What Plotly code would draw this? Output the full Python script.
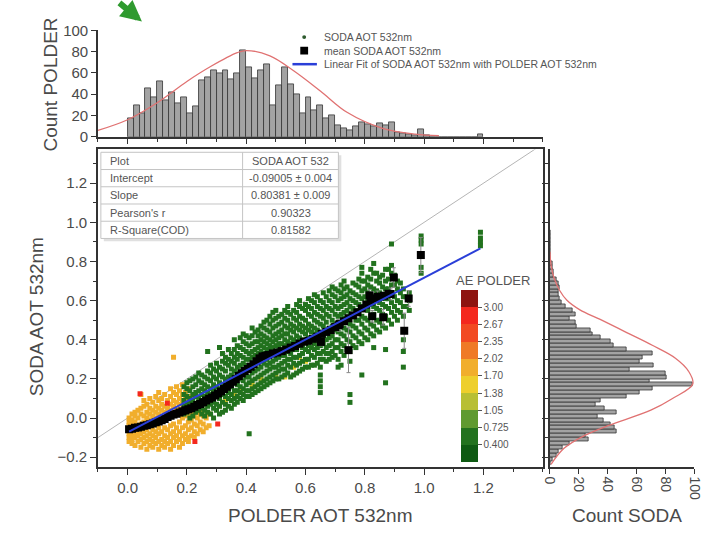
import plotly.graph_objects as go

W, H = 712, 534


def PX(px):
    return px / W


def PY(py):
    return 1 - py / H


# ---------------- data ----------------
# top histogram (POLDER AOT 532nm), bin width 0.02
top_bin_centers = [0.01, 0.03, 0.05, 0.07, 0.09, 0.11, 0.13, 0.15, 0.17, 0.19,
                   0.21, 0.23, 0.25, 0.27, 0.29, 0.31, 0.33, 0.35, 0.37, 0.39,
                   0.41, 0.43, 0.45, 0.47, 0.49, 0.51, 0.53, 0.55, 0.57, 0.59,
                   0.61, 0.63, 0.65, 0.67, 0.69, 0.71, 0.73, 0.75, 0.77, 0.79,
                   0.81, 0.83, 0.85, 0.87, 0.89, 0.91, 0.93, 0.95, 0.97, 0.99,
                   1.01, 1.03, 1.05, 1.07, 1.09, 1.11, 1.13, 1.15, 1.17, 1.19]
top_counts = [17, 30, 22, 46, 37, 52, 34, 42, 31, 37,
              22, 29, 53, 56, 62, 60, 62, 54, 60, 81,
              65, 55, 62, 68, 30, 48, 65, 49, 40, 22,
              37, 25, 30, 17, 20, 11, 8, 6, 10, 14,
              12, 10, 13, 11, 14, 4, 3, 2, 1, 7,
              1, 0, 0, 0, 0, 0, 0, 0, 0, 2]
top_fit_x = [-0.1, 0.0, 0.1, 0.2, 0.28, 0.37, 0.4, 0.48, 0.56, 0.65, 0.74, 0.86, 0.97, 1.05]
top_fit_y = [6, 16, 32, 52, 66, 79, 81, 76, 62, 43, 23, 8, 2.5, 1]

# right histogram (SODA AOT 532nm), bin width 0.02
right_bin_centers = [-0.23, -0.21, -0.19, -0.17, -0.15, -0.13, -0.11, -0.09, -0.07, -0.05,
                     -0.03, -0.01, 0.01, 0.03, 0.05, 0.07, 0.09, 0.11, 0.13, 0.15,
                     0.17, 0.19, 0.21, 0.23, 0.25, 0.27, 0.29, 0.31, 0.33, 0.35,
                     0.37, 0.39, 0.41, 0.43, 0.45, 0.47, 0.49, 0.51, 0.53, 0.55,
                     0.57, 0.59, 0.61, 0.63, 0.65, 0.67, 0.69, 0.71, 0.73, 0.75,
                     0.77, 0.79, 0.81, 0.83, 0.85, 0.87, 0.89, 0.91, 0.93, 0.95]
right_counts = [1, 2, 5, 6, 9, 14, 27, 25, 46, 45,
                42, 37, 33, 46, 38, 32, 35, 53, 62, 71,
                99, 69, 81, 80, 55, 72, 62, 64, 71, 53,
                44, 42, 35, 30, 28, 19, 18, 14, 18, 16,
                11, 8, 7, 6, 6, 7, 6, 5, 3, 3,
                2, 2, 1, 1, 1, 1, 1, 1, 1, 1]
right_fit_y = [-0.237, -0.155, -0.09, -0.04, 0.04, 0.10, 0.174, 0.24, 0.306, 0.372,
               0.438, 0.504, 0.553, 0.602, 0.652, 0.718, 0.784, 0.85]
right_fit_x = [1, 10, 24, 40, 70, 85, 99, 96, 87, 71,
               53, 35, 21, 12, 7, 3, 1, 0.3]

# scatter: SODA vs POLDER, grouped by AE POLDER colour class
green_cols = {
    0.19: [0.02, 0.06, 0.09, 0.12, 0.16],
    0.20: [0.03, 0.07, 0.11, 0.15, 0.18],
    0.21: [0.0, 0.04, 0.08, 0.1, 0.14, 0.19],
    0.22: [0.01, 0.05, 0.09, 0.12, 0.16, 0.2],
    0.23: [0.03, 0.07, 0.11, 0.13, 0.17, 0.21],
    0.24: [0.04, 0.08, 0.1, 0.14, 0.19, 0.23],
    0.25: [0.02, 0.05, 0.09, 0.12, 0.15, 0.18, 0.22],
    0.26: [0.01, 0.04, 0.07, 0.11, 0.14, 0.17, 0.21],
    0.27: [0.03, 0.06, 0.1, 0.13, 0.16, 0.2, 0.24, 0.34],
    0.28: [0.02, 0.07, 0.09, 0.12, 0.15, 0.19, 0.23, 0.27],
    0.29: [0.0, 0.05, 0.08, 0.14, 0.17, 0.21, 0.25],
    0.30: [0.04, 0.07, 0.12, 0.16, 0.2, 0.24, 0.28],
    0.31: [0.02, 0.06, 0.1, 0.15, 0.18, 0.22, 0.26, 0.36],
    0.32: [0.03, 0.08, 0.12, 0.17, 0.21, 0.25, 0.29, 0.33],
    0.33: [0.04, 0.07, 0.11, 0.14, 0.18, 0.2, 0.24, 0.28, 0.31],
    0.34: [0.06, 0.1, 0.13, 0.17, 0.21, 0.27, 0.3, 0.35],
    0.35: [0.05, 0.09, 0.12, 0.16, 0.19, 0.22, 0.25, 0.29, 0.33],
    0.36: [0.07, 0.1, 0.14, 0.18, 0.21, 0.24, 0.28, 0.31, 0.35, 0.4],
    0.37: [0.08, 0.11, 0.14, 0.17, 0.23, 0.26, 0.3, 0.33, 0.37],
    0.38: [0.1, 0.13, 0.16, 0.2, 0.24, 0.27, 0.32, 0.36, 0.41],
    0.39: [0.09, 0.12, 0.15, 0.19, 0.25, 0.28, 0.31, 0.35, 0.39, 0.43],
    0.40: [0.11, 0.14, 0.17, 0.21, 0.27, 0.3, 0.34, 0.38, 0.42],
    0.41: [-0.08, 0.11, 0.14, 0.18, 0.21, 0.27, 0.3, 0.33, 0.37, 0.41],
    0.42: [0.12, 0.15, 0.19, 0.23, 0.28, 0.31, 0.34, 0.38, 0.42, 0.46],
    0.43: [0.13, 0.16, 0.2, 0.24, 0.29, 0.32, 0.35, 0.39, 0.44],
    0.44: [0.14, 0.17, 0.21, 0.25, 0.33, 0.36, 0.39, 0.42, 0.45],
    0.45: [0.15, 0.18, 0.22, 0.26, 0.29, 0.34, 0.37, 0.4, 0.43, 0.47],
    0.46: [0.16, 0.19, 0.23, 0.28, 0.33, 0.36, 0.39, 0.42, 0.46, 0.49],
    0.47: [0.17, 0.2, 0.24, 0.27, 0.3, 0.35, 0.38, 0.41, 0.45, 0.5],
    0.48: [0.18, 0.21, 0.25, 0.28, 0.35, 0.37, 0.4, 0.44, 0.48, 0.52],
    0.49: [0.19, 0.22, 0.26, 0.29, 0.36, 0.39, 0.42, 0.46, 0.5, 0.54],
    0.50: [0.2, 0.23, 0.26, 0.3, 0.37, 0.4, 0.43, 0.47, 0.51, 0.55],
    0.51: [0.2, 0.24, 0.27, 0.31, 0.36, 0.38, 0.41, 0.44, 0.48, 0.52],
    0.52: [0.21, 0.25, 0.28, 0.32, 0.38, 0.42, 0.45, 0.49, 0.53],
    0.53: [0.22, 0.25, 0.29, 0.32, 0.37, 0.4, 0.43, 0.47, 0.51, 0.55],
    0.54: [0.23, 0.27, 0.3, 0.34, 0.39, 0.43, 0.46, 0.5, 0.54, 0.57],
    0.55: [0.21, 0.26, 0.3, 0.33, 0.38, 0.41, 0.45, 0.48, 0.53],
    0.56: [0.22, 0.28, 0.31, 0.35, 0.4, 0.44, 0.47, 0.51, 0.55],
    0.57: [0.23, 0.27, 0.31, 0.35, 0.39, 0.42, 0.46, 0.5, 0.54, 0.58],
    0.58: [0.24, 0.28, 0.32, 0.37, 0.41, 0.45, 0.48, 0.52, 0.57, 0.6],
    0.59: [0.25, 0.29, 0.33, 0.36, 0.4, 0.44, 0.47, 0.51, 0.56],
    0.60: [0.26, 0.3, 0.35, 0.39, 0.43, 0.46, 0.5, 0.55, 0.58],
    0.61: [0.26, 0.3, 0.34, 0.37, 0.41, 0.45, 0.48, 0.53, 0.57, 0.61],
    0.62: [0.27, 0.32, 0.36, 0.39, 0.44, 0.47, 0.52, 0.56, 0.6],
    0.63: [0.27, 0.31, 0.35, 0.38, 0.43, 0.46, 0.5, 0.54, 0.59, 0.63],
    0.64: [0.28, 0.33, 0.36, 0.4, 0.45, 0.49, 0.53, 0.57, 0.62],
    0.65: [0.13, 0.16, 0.19, 0.22, 0.26, 0.3, 0.33, 0.37, 0.44, 0.48, 0.52, 0.56, 0.6],
    0.66: [0.3, 0.34, 0.38, 0.42, 0.47, 0.51, 0.55, 0.59, 0.64],
    0.67: [0.29, 0.33, 0.36, 0.4, 0.45, 0.49, 0.53, 0.57, 0.62],
    0.68: [0.3, 0.33, 0.37, 0.41, 0.46, 0.52, 0.56, 0.6, 0.65],
    0.69: [0.31, 0.34, 0.38, 0.42, 0.47, 0.5, 0.55, 0.59, 0.63, 0.67],
    0.70: [0.32, 0.36, 0.4, 0.45, 0.48, 0.53, 0.57, 0.62, 0.66],
    0.71: [0.26, 0.3, 0.36, 0.4, 0.44, 0.49, 0.52, 0.56, 0.6, 0.65],
    0.72: [0.27, 0.34, 0.38, 0.43, 0.47, 0.53, 0.57, 0.61, 0.64, 0.68],
    0.73: [0.32, 0.37, 0.42, 0.46, 0.51, 0.54, 0.58, 0.62, 0.66, 0.7],
    0.74: [0.35, 0.4, 0.45, 0.49, 0.55, 0.59, 0.63, 0.67],
    0.75: [0.08, 0.12, 0.29, 0.34, 0.39, 0.44, 0.48, 0.53, 0.57, 0.61, 0.65],
    0.76: [0.37, 0.42, 0.47, 0.52, 0.56, 0.6, 0.64, 0.69],
    0.77: [0.36, 0.41, 0.46, 0.5, 0.55, 0.59, 0.63, 0.68],
    0.78: [0.39, 0.44, 0.5, 0.54, 0.58, 0.62, 0.67, 0.71],
    0.79: [0.22, 0.38, 0.43, 0.48, 0.52, 0.57, 0.61, 0.65, 0.7, 0.74, 0.77],
    0.80: [0.41, 0.46, 0.51, 0.57, 0.62, 0.66, 0.7],
    0.81: [0.4, 0.45, 0.5, 0.55, 0.6, 0.64, 0.68, 0.72],
    0.82: [0.43, 0.48, 0.52, 0.58, 0.63, 0.67, 0.71, 0.76],
    0.83: [0.36, 0.42, 0.47, 0.53, 0.57, 0.62, 0.66, 0.74, 0.79],
    0.84: [0.45, 0.5, 0.56, 0.61, 0.65, 0.7, 0.74],
    0.85: [0.44, 0.49, 0.55, 0.59, 0.64, 0.69, 0.72],
    0.86: [0.47, 0.53, 0.58, 0.63, 0.67, 0.73],
    0.87: [0.18, 0.35, 0.46, 0.52, 0.57, 0.61, 0.66, 0.7, 0.76],
    0.88: [0.5, 0.56, 0.61, 0.66, 0.71, 0.76],
    0.89: [0.48, 0.54, 0.59, 0.64, 0.68, 0.74, 0.78, 0.89],
    0.90: [0.52, 0.57, 0.62, 0.68, 0.73],
    0.91: [0.5, 0.55, 0.6, 0.66, 0.7],
    0.92: [0.54, 0.59, 0.64, 0.69],
    0.93: [0.26, 0.34, 0.4, 0.52, 0.57, 0.62, 0.66],
    0.94: [0.57, 0.62],
    0.95: [0.55, 0.6, 0.64],
    0.99: [0.74, 0.77, 0.89, 0.91, 0.93],
    1.19: [0.88, 0.9, 0.92, 0.95],
}
orange_cols = {
    0.005: [-0.12, -0.10, -0.08, -0.04, -0.02, 0.0],
    0.015: [-0.13, -0.11, -0.09, -0.07, -0.03, -0.01, 0.02],
    0.025: [-0.14, -0.1, -0.08, -0.06, -0.02, 0.01, 0.03],
    0.035: [-0.12, -0.09, -0.07, -0.04, 0.0, 0.04],
    0.045: [-0.15, -0.11, -0.08, -0.03, 0.02, 0.05, 0.12],
    0.055: [-0.13, -0.1, -0.07, -0.02, 0.01, 0.06, 0.09],
    0.065: [-0.16, -0.12, -0.09, -0.06, 0.0, 0.03, 0.07],
    0.075: [-0.14, -0.11, -0.08, -0.01, 0.02, 0.05, 0.1],
    0.085: [-0.15, -0.12, -0.09, -0.06, 0.01, 0.04, 0.08],
    0.095: [-0.13, -0.1, -0.07, 0.0, 0.03, 0.06, 0.11],
    0.105: [-0.16, -0.12, -0.08, -0.05, 0.02, 0.05, 0.09, 0.13],
    0.115: [-0.14, -0.11, -0.07, 0.01, 0.04, 0.07, 0.1],
    0.125: [-0.15, -0.12, -0.09, -0.05, 0.03, 0.06, 0.12],
    0.135: [-0.13, -0.1, -0.06, 0.02, 0.05, 0.09],
    0.145: [-0.16, -0.12, -0.08, -0.04, 0.04, 0.07, 0.11, 0.15],
    0.155: [-0.14, -0.1, -0.07, -0.03, 0.06, 0.09, 0.13, 0.31],
    0.165: [-0.12, -0.09, -0.05, 0.05, 0.08, 0.12, 0.16],
    0.175: [-0.15, -0.11, -0.07, -0.02, 0.07, 0.1, 0.14],
    0.185: [-0.13, -0.09, -0.05, 0.0, 0.08, 0.12, 0.17],
    0.195: [-0.11, -0.08, -0.04, 0.01, 0.1, 0.13],
    0.205: [-0.12, -0.1, -0.06, -0.02, 0.02, 0.09, 0.15],
    0.215: [-0.09, -0.05, -0.01, 0.03, 0.11],
    0.225: [-0.1, -0.07, -0.03, 0.01, 0.12],
    0.235: [-0.08, -0.04, 0.0, 0.03],
    0.245: [-0.06, -0.02, 0.02],
    0.255: [-0.07, -0.03, 0.01, 0.04],
    0.265: [-0.05, 0.0],
    0.275: [-0.04, 0.02],
}
yellow_x = [0.31, 0.33, 0.36, 0.38, 0.42, 0.45, 0.5, 0.53, 0.56, 0.58, 0.6]
yellow_y = [0.06, 0.09, 0.12, 0.14, 0.17, 0.2, 0.22, 0.21, 0.26, 0.31, 0.29]
red_x = [0.134, 0.304, 0.227, 0.042]
red_y = [0.076, -0.03, -0.12, 0.124]

# mean SODA AOT per POLDER bin
mean_x = [0.005, 0.015, 0.025, 0.035, 0.045, 0.055, 0.065, 0.075, 0.085, 0.095,
          0.105, 0.115, 0.125, 0.135, 0.145, 0.155, 0.165, 0.175, 0.185, 0.195,
          0.205, 0.215, 0.225, 0.235, 0.245, 0.255, 0.265, 0.275, 0.285, 0.295,
          0.305, 0.315, 0.325, 0.335, 0.345, 0.355, 0.365, 0.375, 0.385, 0.395,
          0.405, 0.415, 0.425, 0.435, 0.445, 0.455, 0.465, 0.475, 0.49, 0.505,
          0.52, 0.535, 0.55, 0.565, 0.58, 0.595, 0.61, 0.625, 0.64, 0.655,
          0.67, 0.685, 0.70, 0.715, 0.73, 0.745, 0.76, 0.775, 0.79, 0.805,
          0.82, 0.835, 0.85, 0.865, 0.88,
          0.989, 0.898, 0.816, 0.843, 0.887, 0.948, 0.825, 0.862, 0.933, 0.745,
          0.712, 0.652]
mean_y = [-0.058, -0.055, -0.05, -0.048, -0.045, -0.04, -0.037, -0.032, -0.028, -0.022,
          -0.018, -0.012, -0.005, 0.005, 0.012, 0.018, 0.022, 0.028, 0.035, 0.04,
          0.045, 0.05, 0.058, 0.066, 0.072, 0.08, 0.09, 0.098, 0.105, 0.115,
          0.125, 0.135, 0.148, 0.16, 0.172, 0.185, 0.198, 0.215, 0.228, 0.24,
          0.25, 0.262, 0.275, 0.29, 0.305, 0.315, 0.318, 0.322, 0.33, 0.335,
          0.342, 0.35, 0.36, 0.368, 0.38, 0.39, 0.395, 0.405, 0.415, 0.43,
          0.44, 0.45, 0.465, 0.48, 0.495, 0.51, 0.525, 0.54, 0.56, 0.58,
          0.595, 0.61, 0.62, 0.625, 0.635,
          0.833, 0.718, 0.627, 0.619, 0.634, 0.611, 0.52, 0.515, 0.446, 0.347,
          0.474, 0.389]
mean_err = [0] * 75 + [0.09, 0.05, 0.03, 0.03, 0.03, 0.04, 0.03, 0.04, 0.09, 0.115, 0.03, 0.02]

# linear fit and 1:1 reference
fit_x = [0.005, 1.19]
fit_y = [-0.069, 0.867]
one_x = [-0.1, 1.4]
one_y = [-0.1, 1.4]

# AE POLDER colour classes
ae_levels = [0.075, 0.400, 0.725, 1.05, 1.375, 1.70, 2.025, 2.35, 2.675, 3.00, 3.325]
ae_tickvals = [0.400, 0.725, 1.05, 1.375, 1.70, 2.025, 2.35, 2.675, 3.00]
ae_ticktext = ['0.400', '0.725', '1.05', '1.38', '1.70', '2.02', '2.35', '2.67', '3.00']
band_colors = ['#0e5a12', '#22721e', '#5f9a30', '#b8bf34', '#eecf2c',
               '#f1ae2c', '#ef7a26', '#f24a22', '#f4281e', '#8e1410']
green_ae, orange_ae, yellow_ae, red_ae = 0.56, 1.86, 1.55, 2.8

# fit statistics table
table_labels = ['Plot', 'Intercept', 'Slope', "Pearson's r", 'R-Square(COD)']
table_values = ['SODA AOT 532', '-0.09005 ± 0.004', '0.80381 ± 0.009', '0.90323', '0.81582']


def band_color(v):
    for i in range(len(band_colors)):
        if ae_levels[i] <= v < ae_levels[i + 1]:
            return band_colors[i]
    return band_colors[-1]


def flatten(cols):
    xs, ys = [], []
    for k, vals in cols.items():
        for v in vals:
            xs.append(k)
            ys.append(v)
    return xs, ys


gx, gy = flatten(green_cols)
ox, oy = flatten(orange_cols)

n = len(band_colors)
colorscale = []
for i, c in enumerate(band_colors):
    colorscale.append([i / n, c])
    colorscale.append([(i + 1) / n, c])

FONT = 'Arial, Liberation Sans, sans-serif'
AX = '#333333'
TXT = '#4a4a4a'
PT = 5

fig = go.Figure()

# scatter panel
fig.add_trace(go.Scatter(x=one_x, y=one_y, mode='lines', line=dict(color='#b5b5b5', width=1),
                         xaxis='x', yaxis='y', hoverinfo='skip'))
fig.add_trace(go.Scatter(x=ox, y=oy, mode='markers', name='SODA AOT 532nm',
                         marker=dict(symbol='square', size=PT, color=band_color(orange_ae)),
                         xaxis='x', yaxis='y'))
fig.add_trace(go.Scatter(x=yellow_x, y=yellow_y, mode='markers',
                         marker=dict(symbol='square', size=PT, color=band_color(yellow_ae)),
                         xaxis='x', yaxis='y'))
fig.add_trace(go.Scatter(x=red_x, y=red_y, mode='markers',
                         marker=dict(symbol='square', size=PT, color=band_color(red_ae)),
                         xaxis='x', yaxis='y'))
fig.add_trace(go.Scatter(x=gx, y=gy, mode='markers',
                         marker=dict(symbol='square', size=PT, color=band_color(green_ae)),
                         xaxis='x', yaxis='y'))
fig.add_trace(go.Scatter(x=mean_x, y=mean_y, mode='markers', name='mean SODA AOT 532nm',
                         marker=dict(symbol='square', size=8, color='black'),
                         error_y=dict(type='data', array=mean_err, color='#888888', thickness=1, width=2),
                         xaxis='x', yaxis='y'))
fig.add_trace(go.Scatter(x=fit_x, y=fit_y, mode='lines',
                         name='Linear Fit of SODA AOT 532nm with POLDER AOT 532nm',
                         line=dict(color='#2a3fd8', width=2), xaxis='x', yaxis='y'))

# colour bar holder
fig.add_trace(go.Scatter(x=[None], y=[None], mode='markers', hoverinfo='skip',
                         marker=dict(color=[ae_levels[0]], colorscale=colorscale,
                                     cmin=ae_levels[0], cmax=ae_levels[-1], showscale=True,
                                     colorbar=dict(x=PX(463), xanchor='left', xpad=0, ypad=0,
                                                   y=PY(379), yanchor='middle',
                                                   len=172, lenmode='pixels', thickness=17,
                                                   outlinewidth=0, ticks='outside', ticklen=4,
                                                   tickcolor='#555', tickvals=ae_tickvals,
                                                   ticktext=ae_ticktext,
                                                   tickfont=dict(size=10, color='#555', family=FONT))),
                         xaxis='x', yaxis='y'))

# top histogram
fig.add_trace(go.Bar(x=top_bin_centers, y=top_counts, width=0.02,
                     marker=dict(color='#a3a3a3', line=dict(color='#333333', width=0.8)),
                     xaxis='x2', yaxis='y2'))
fig.add_trace(go.Scatter(x=top_fit_x, y=top_fit_y, mode='lines', line=dict(color='#e07272', width=1.3, shape='spline'),
                         xaxis='x2', yaxis='y2'))

# right histogram
fig.add_trace(go.Bar(y=right_bin_centers, x=right_counts, width=0.02, orientation='h',
                     marker=dict(color='#a3a3a3', line=dict(color='#333333', width=0.8)),
                     xaxis='x3', yaxis='y3'))
fig.add_trace(go.Scatter(x=right_fit_x, y=right_fit_y, mode='lines', line=dict(color='#e07272', width=1.3, shape='spline'),
                         xaxis='x3', yaxis='y3'))

base = dict(showline=True, linecolor=AX, linewidth=1.5, ticks='outside', tickcolor=AX, tickwidth=1.3,
            showgrid=False, zeroline=False, tickfont=dict(size=15, color=TXT, family=FONT))
minor01 = dict(ticks='outside', ticklen=3, tickcolor=AX, dtick=0.1, tick0=0, showgrid=False)

fig.update_layout(
    width=W, height=H, margin=dict(l=0, r=0, t=0, b=0),
    paper_bgcolor='white', plot_bgcolor='white', showlegend=False,
    font=dict(family=FONT, color=TXT),
    xaxis=dict(base, domain=[PX(92), PX(547)], range=[-0.1, 1.4], anchor='y', mirror=True,
               tickvals=[0, 0.2, 0.4, 0.6, 0.8, 1.0, 1.2], tickformat='.1f', ticklen=6, minor=minor01),
    yaxis=dict(base, domain=[PY(473), PY(145)], range=[-0.25, 1.373], anchor='x', mirror=True,
               tickvals=[-0.2, 0, 0.2, 0.4, 0.6, 0.8, 1.0, 1.2], tickformat='.1f', ticklen=6, minor=minor01),
    xaxis2=dict(base, domain=[PX(92), PX(547)], range=[-0.1, 1.4], anchor='y2', matches='x',
                showticklabels=False, tickvals=[0, 0.2, 0.4, 0.6, 0.8, 1.0, 1.2], ticklen=5, minor=minor01),
    yaxis2=dict(base, domain=[PY(132), PY(22)], range=[0, 100], anchor='x2',
                tickvals=[0, 20, 40, 60, 80, 100], ticklen=5),
    xaxis3=dict(base, domain=[PX(554), PX(702)], range=[0, 100], anchor='y3',
                tickvals=[0, 20, 40, 60, 80, 100], tickangle=90, ticklen=5,
                tickfont=dict(size=14, color=TXT, family=FONT)),
    yaxis3=dict(base, domain=[PY(473), PY(145)], range=[-0.25, 1.373], anchor='x3', matches='y',
                showticklabels=False, tickvals=[-0.2, 0, 0.2, 0.4, 0.6, 0.8, 1.0, 1.2], ticklen=6, minor=minor01),
    bargap=0,
)

title_font = dict(size=19, color=TXT, family=FONT)
ann = [
    dict(text='POLDER AOT 532nm', x=PX(319), y=PY(523), font=title_font),
    dict(text='SODA AOT 532nm', x=PX(30), y=PY(318), textangle=-90, font=title_font),
    dict(text='Count POLDER', x=PX(43), y=PY(78), textangle=-90, font=title_font),
    dict(text='Count SODA', x=PX(633), y=PY(523), font=title_font),
    dict(text='AE POLDER', x=PX(496), y=PY(280), font=dict(size=13, color='#555', family=FONT)),
]
for a in ann:
    a.update(xref='paper', yref='paper', showarrow=False, xanchor='center', yanchor='middle')
    fig.add_annotation(**a)

# legend (drawn by hand to match the compact spacing)
legend_rows = [('SODA AOT 532nm', 29), ('mean SODA AOT 532nm', 43),
               ('Linear Fit of SODA AOT 532nm with POLDER AOT 532nm', 57)]
for txt, yy in legend_rows:
    fig.add_annotation(text=txt, x=PX(321), y=PY(yy), xref='paper', yref='paper', showarrow=False,
                       xanchor='left', yanchor='middle', font=dict(size=10.5, color='#555', family=FONT))
fig.add_shape(type='circle', xref='paper', yref='paper', x0=PX(301), x1=PX(305), y0=PY(31), y1=PY(27),
              fillcolor='#2d5a2d', line=dict(width=0))
fig.add_shape(type='rect', xref='paper', yref='paper', x0=PX(299), x1=PX(307), y0=PY(47), y1=PY(39),
              fillcolor='black', line=dict(width=0))
fig.add_shape(type='line', xref='paper', yref='paper', x0=PX(291), x1=PX(316), y0=PY(57), y1=PY(57),
              line=dict(color='#2a3fd8', width=2.5))

# statistics table (box, grid and text)
T_L, T_R, T_TOP, T_MID, ROW_H = 95, 338, 148, 240, 17.8
n_rows = len(table_labels)
T_BOT = T_TOP + n_rows * ROW_H
fig.add_shape(type='rect', xref='paper', yref='paper', x0=PX(T_L + 3), x1=PX(T_R + 3),
              y0=PY(T_BOT + 3), y1=PY(T_TOP + 3), fillcolor='#e0e0e0', line=dict(width=0), layer='above')
fig.add_shape(type='rect', xref='paper', yref='paper', x0=PX(T_L), x1=PX(T_R),
              y0=PY(T_BOT), y1=PY(T_TOP), fillcolor='white', line=dict(color='#c4c4c4', width=1), layer='above')
fig.add_shape(type='line', xref='paper', yref='paper', x0=PX(T_MID), x1=PX(T_MID),
              y0=PY(T_BOT), y1=PY(T_TOP), line=dict(color='#c4c4c4', width=1), layer='above')
for i in range(1, n_rows):
    yy = T_TOP + i * ROW_H
    fig.add_shape(type='line', xref='paper', yref='paper', x0=PX(T_L), x1=PX(T_R),
                  y0=PY(yy), y1=PY(yy), line=dict(color='#c4c4c4', width=1), layer='above')
for i, (lab, val) in enumerate(zip(table_labels, table_values)):
    yc = T_TOP + (i + 0.5) * ROW_H
    fig.add_annotation(text=lab, x=PX(T_L + 7), y=PY(yc), xref='paper', yref='paper', showarrow=False,
                       xanchor='left', yanchor='middle', font=dict(size=11, color='#555', family=FONT))
    fig.add_annotation(text=val, x=PX((T_MID + T_R) / 2), y=PY(yc), xref='paper', yref='paper',
                       showarrow=False, xanchor='center', yanchor='middle',
                       font=dict(size=11, color='#555', family=FONT))

# green arrow fragment at the top
fig.add_annotation(x=PX(137), y=PY(13), xref='paper', yref='paper', text='', showarrow=True,
                   ax=-24, ay=-20, arrowcolor='#2f9a2f', arrowwidth=6, arrowhead=2, arrowsize=0.7)

fig.write_html('out.html')
